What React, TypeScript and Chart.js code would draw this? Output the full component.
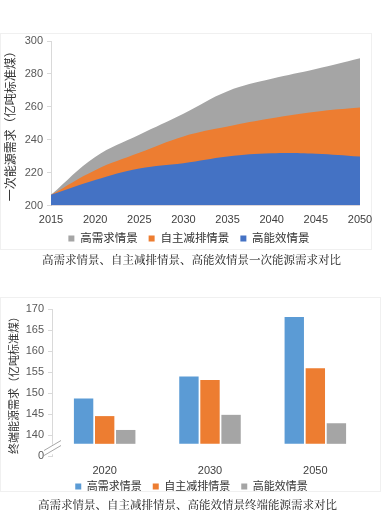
import React, { useEffect, useRef } from 'react';
import { Chart, registerables } from 'chart.js';

Chart.register(...registerables);

// ---------- Top chart: primary energy demand (area) ----------
const areaYears = ['2015', '2020', '2025', '2030', '2035', '2040', '2045', '2050'];
const highDemandPrimary = [206.5, 229.5, 243, 255.8, 269.5, 277, 283, 289.5];
const selfReductionPrimary = [206.5, 221.5, 232, 242, 248, 253, 257, 259.5];
const highEfficiencyPrimary = [206.5, 215.5, 222.5, 225.7, 229.8, 231.8, 231.5, 229.8];
const areaYTicks = [200, 220, 240, 260, 280, 300];

// ---------- Bottom chart: final energy demand (bars) ----------
const barCategories = ['2020', '2030', '2050'];
const highDemandFinal = [148.7, 153.9, 168.1];
const selfReductionFinal = [144.5, 153.1, 155.9];
const highEfficiencyFinal = [141.2, 144.8, 142.8];
const barYTicks = [140, 145, 150, 155, 160, 165, 170];
const barBreakTick = 135;
const barBreakLabel = '0';
const barBase = 137.9;

const seriesNames = ['高需求情景', '自主减排情景', '高能效情景'];
const primaryTitle = '一次能源需求（亿吨标准煤）';
const finalTitle = '终端能源需求（亿吨标准煤）';
const caption1 = '高需求情景、自主减排情景、高能效情景一次能源需求对比';
const caption2 = '高需求情景、自主减排情景、高能效情景终端能源需求对比';

const FONT = '"Liberation Sans", Arial, "Noto Sans CJK SC", sans-serif';
Chart.defaults.font.family = FONT;

// Re-centre the legend box on a given point (canvas coordinates) after layout.
const legendPlace = (cx: number, cy: number) => ({
  id: 'legendPlace',
  afterLayout(chart: any) {
    const l = chart.legend;
    if (!l) return;
    const w = l.right - l.left;
    const h = l.bottom - l.top;
    l.left = cx - w / 2;
    l.right = cx + w / 2;
    l.top = cy - h / 2;
    l.bottom = cy + h / 2;
  },
});

const axisBreakPlugin = {
  id: 'axisBreak',
  afterDraw(chart: any) {
    const { ctx } = chart;
    const y = chart.scales.y;
    const x0 = y.right;
    const top = y.getPixelForValue(137.7);
    const bottom = y.getPixelForValue(135.4);
    const yc = y.getPixelForValue(136.9);
    ctx.save();
    ctx.fillStyle = '#ffffff';
    ctx.fillRect(x0 - 3, top, 6, bottom - top);
    ctx.strokeStyle = '#a6a6a6';
    ctx.lineWidth = 1;
    for (const d of [-2.5, 2.5]) {
      ctx.beginPath();
      ctx.moveTo(x0 - 8, yc + d + 5);
      ctx.lineTo(x0 + 9, yc + d - 5);
      ctx.stroke();
    }
    ctx.restore();
  },
};

function AreaChart() {
  const ref = useRef<HTMLCanvasElement>(null);
  useEffect(() => {
    if (!ref.current) return;
    const common = { borderWidth: 0, pointRadius: 0, tension: 0.4, fill: 'start' };
    const chart = new Chart(ref.current, {
      type: 'line',
      data: {
        labels: areaYears,
        datasets: [
          { ...common, label: seriesNames[2], data: highEfficiencyPrimary, backgroundColor: '#4472c4', borderColor: '#4472c4' },
          { ...common, label: seriesNames[1], data: selfReductionPrimary, backgroundColor: '#ed7d31', borderColor: '#ed7d31' },
          { ...common, label: seriesNames[0], data: highDemandPrimary, backgroundColor: '#a5a5a5', borderColor: '#a5a5a5' },
        ] as any,
      },
      plugins: [legendPlace(189, 210)],
      options: {
        responsive: false,
        animation: false,
        layout: { padding: { top: 13, right: 29, left: 0, bottom: 0 } },
        plugins: {
          legend: {
            position: 'bottom',
            reverse: true,
            labels: { boxWidth: 6, boxHeight: 6, padding: 11, color: '#333333', font: { size: 11.5 } },
          },
          tooltip: { enabled: false },
        },
        scales: {
          x: {
            grid: { display: false, drawTicks: false },
            border: { display: false },
            ticks: { color: '#404040', font: { size: 11 }, padding: 8, maxRotation: 0, autoSkip: false },
            afterFit: (s: any) => { s.height = 18; },
          },
          y: {
            min: 200,
            max: 300,
            afterBuildTicks: (s: any) => { s.ticks = areaYTicks.map((v) => ({ value: v })); },
            grid: { drawOnChartArea: false, tickLength: 4, color: '#d9d9d9' },
            border: { color: '#d9d9d9' },
            ticks: { color: '#595959', font: { size: 11 }, padding: 4 },
            title: { display: true, text: primaryTitle, color: '#333333', font: { size: 12 }, padding: { top: 4, bottom: 0 } },
            afterFit: (s: any) => { s.width = 51; },
          },
        },
      } as any,
    });
    return () => chart.destroy();
  }, []);
  return <canvas ref={ref} width={389} height={228} style={{ position: 'absolute', left: 0, top: 28 }} />;
}

function BarChart() {
  const ref = useRef<HTMLCanvasElement>(null);
  useEffect(() => {
    if (!ref.current) return;
    const common = { base: barBase, categoryPercentage: 0.6, barPercentage: 0.92, borderWidth: 0 };
    const chart = new Chart(ref.current, {
      type: 'bar',
      data: {
        labels: barCategories,
        datasets: [
          { ...common, label: seriesNames[0], data: highDemandFinal, backgroundColor: '#5b9bd5' },
          { ...common, label: seriesNames[1], data: selfReductionFinal, backgroundColor: '#ed7d31' },
          { ...common, label: seriesNames[2], data: highEfficiencyFinal, backgroundColor: '#a5a5a5' },
        ] as any,
      },
      plugins: [axisBreakPlugin, legendPlace(191.5, 190)],
      options: {
        responsive: false,
        animation: false,
        layout: { padding: { top: 13, right: 21, left: 0, bottom: 0 } },
        plugins: {
          legend: {
            position: 'bottom',
            labels: { boxWidth: 6, boxHeight: 6, padding: 11, color: '#333333', font: { size: 11 } },
          },
          tooltip: { enabled: false },
        },
        scales: {
          x: {
            grid: { display: false, drawTicks: false },
            border: { display: false },
            ticks: { color: '#404040', font: { size: 11 }, padding: 8, maxRotation: 0 },
            afterFit: (s: any) => { s.height = 20; },
          },
          y: {
            min: barBreakTick,
            max: 170,
            afterBuildTicks: (s: any) => {
              s.ticks = [barBreakTick, ...barYTicks].map((v) => ({ value: v }));
            },
            grid: { drawOnChartArea: false, tickLength: 4, color: '#d9d9d9' },
            border: { color: '#d9d9d9' },
            ticks: {
              color: '#595959',
              font: { size: 11 },
              padding: 4,
              callback: (v: any) => (v === barBreakTick ? barBreakLabel : String(v)),
            },
            title: { display: true, text: finalTitle, color: '#333333', font: { size: 11 }, padding: { top: 8, bottom: 0 } },
            afterFit: (s: any) => { s.width = 52; },
          },
        },
      } as any,
    });
    return () => chart.destroy();
  }, []);
  return <canvas ref={ref} width={389} height={212} style={{ position: 'absolute', left: 0, top: 296 }} />;
}

const captionStyle: React.CSSProperties = {
  position: 'absolute',
  left: 0,
  width: 383,
  textAlign: 'center',
  fontFamily: '"Noto Serif CJK SC", serif',
  fontSize: 11.5,
  lineHeight: '14px',
  color: '#111111',
  whiteSpace: 'nowrap',
  zIndex: 2,
};

export default function App() {
  return (
    <div style={{ position: 'absolute', left: 0, top: 0, width: 389, height: 515, background: '#ffffff', overflow: 'hidden' }}>
      <div style={{ position: 'absolute', left: 0, top: 33, width: 372, height: 217, border: '1px solid #f0f0f0', boxSizing: 'border-box' }} />
      <div style={{ position: 'absolute', left: 0, top: 297, width: 381, height: 195, border: '1px solid #f0f0f0', boxSizing: 'border-box' }} />
      <AreaChart />
      <BarChart />
      <div style={{ ...captionStyle, top: 252 }}>{caption1}</div>
      <div style={{ ...captionStyle, top: 497, width: 375 }}>{caption2}</div>
    </div>
  );
}
